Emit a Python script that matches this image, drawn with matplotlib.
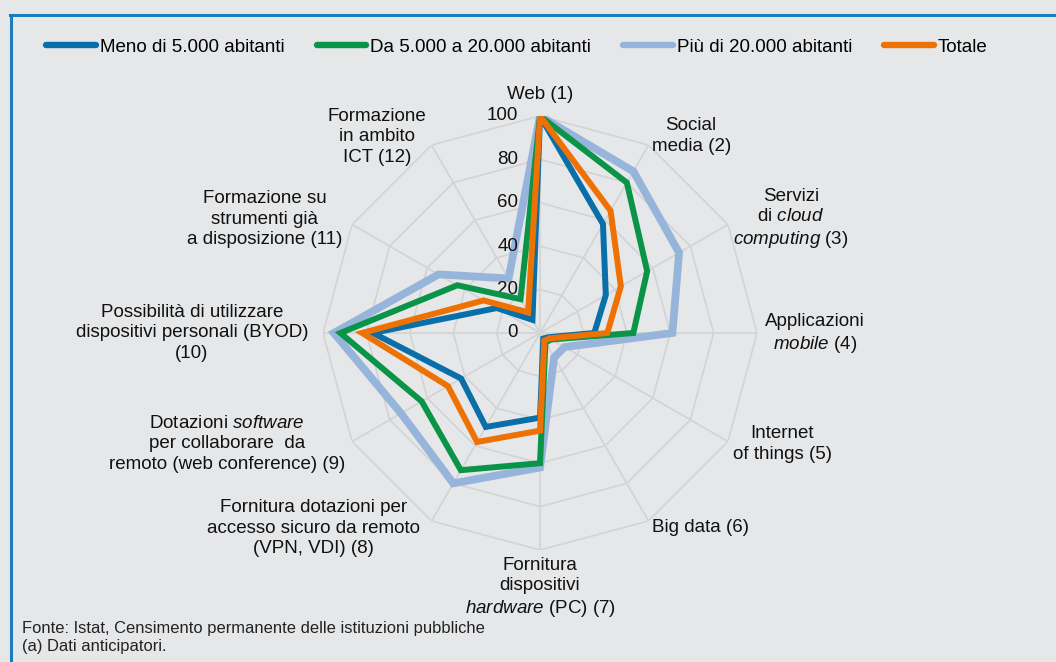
import numpy as np
import matplotlib
matplotlib.use("Agg")
import matplotlib.pyplot as plt
from matplotlib.lines import Line2D
import matplotlib.transforms as mtransforms

# ----------------------------
# Dati (valori percentuali)
# ----------------------------
categorie = [
    "Web (1)",
    "Social\nmedia (2)",
    "Servizi\ndi $\\it{cloud}$\n$\\it{computing}$ (3)",
    "Applicazioni\n$\\it{mobile}$ (4)",
    "Internet\nof things (5)",
    "Big data (6)",
    "Fornitura\ndispositivi\n$\\it{hardware}$ (PC) (7)",
    "Fornitura dotazioni per\naccesso sicuro da remoto\n(VPN, VDI) (8)",
    "Dotazioni $\\it{software}$\nper collaborare  da\nremoto (web conference) (9)",
    "Possibilità di utilizzare\ndispositivi personali (BYOD)\n(10)",
    "Formazione su\nstrumenti già\na disposizione (11)",
    "Formazione\nin ambito\nICT (12)",
]
meno_5000 = [100, 58, 35, 25, 4, 3, 39, 50, 42, 77, 23, 7]
da_5000_20000 = [100, 80, 57, 43, 6, 5, 60, 73, 63, 92, 44, 18]
piu_20000 = [100, 86, 74, 61, 13, 13, 62, 80, 74, 95, 54, 29]
totale = [100, 65, 43, 31, 5, 4, 45, 58, 49, 82, 30, 11]

serie_nomi = ["Meno di 5.000 abitanti", "Da 5.000 a 20.000 abitanti",
              "Più di 20.000 abitanti", "Totale"]
livelli = [20, 40, 60, 80, 100]
tick_labels = ["0", "20", "40", "60", "80", "100"]

# posizione delle etichette (angolo in gradi, raggio in unità dell'asse)
pos_etichette = [(0, 109.7), (37.5, 114.4), (65.6, 127.0), (90.2, 126.7),
                 (114.6, 122.7), (140.5, 115.9), (180, 117.5), (229.3, 137.9),
                 (250.5, 153.0), (270, 160.4), (292.5, 137.2), (320.3, 117.5)]

# ----------------------------
# Stile
# ----------------------------
plt.rcParams['font.family'] = ['Liberation Sans', 'DejaVu Sans']
plt.rcParams['mathtext.fontset'] = 'custom'
plt.rcParams['mathtext.rm'] = 'Liberation Sans'
plt.rcParams['mathtext.it'] = 'Liberation Sans:italic'

sfondo = "#e6e7e9"
col_blu = "#0a6fa8"
col_verde = "#0a9447"
col_azzurro = "#97b5da"
col_arancio = "#ee7203"
col_griglia = "#d2d3d5"
col_cornice = "#1b7dbd"
fs = 13.5

fig = plt.figure(figsize=(10.56, 6.62), dpi=100, facecolor=sfondo)
ax = fig.add_axes([0.3059, 0.1692, 0.411, 0.6556], projection='polar')
ax.set_facecolor('none')
ax.set_theta_offset(np.pi / 2)
ax.set_theta_direction(-1)

n = len(categorie)
angoli = np.linspace(0, 2 * np.pi, n, endpoint=False)
angoli_chiusi = np.append(angoli, angoli[0])

# griglia poligonale
for liv in livelli:
    ax.plot(angoli_chiusi, [liv] * (n + 1), color=col_griglia, lw=1.2, zorder=1)
ax.set_xticks(angoli)
ax.set_xticklabels([])
ax.xaxis.grid(True, color=col_griglia, lw=1.2)
ax.set_yticks([])
ax.yaxis.grid(False)
ax.spines['polar'].set_visible(False)
ax.set_ylim(0, 100)

# serie
serie = [
    (piu_20000, col_azzurro, 5.6, 3),
    (da_5000_20000, col_verde, 4.3, 4),
    (meno_5000, col_blu, 4.3, 5),
    (totale, col_arancio, 4.3, 6),
]
for valori, colore, lw, z in serie:
    v = np.append(valori, valori[0])
    ax.plot(angoli_chiusi, v, color=colore, lw=lw, zorder=z,
            solid_joinstyle='miter', solid_capstyle='round')

# etichette del raggio
offset = mtransforms.offset_copy(ax.transData, fig=fig, x=-22, y=0, units='dots')
for val, txt in zip([0] + livelli, tick_labels):
    ax.text(0, val, txt, transform=offset, ha='right', va='center',
            fontsize=fs, color='#111111')

# etichette delle categorie
for (ang, r), txt in zip(pos_etichette, categorie):
    ax.text(np.deg2rad(ang), r, txt, ha='center', va='center',
            multialignment='center', fontsize=fs, color='#111111',
            linespacing=1.27)

# legenda
ordine = [col_blu, col_verde, col_azzurro, col_arancio]
leg_handles = [Line2D([0], [0], color=c, lw=4.6, solid_capstyle='round') for c in ordine]
fig.legend(leg_handles, serie_nomi, loc='center', bbox_to_anchor=(0.4895, 0.929),
           ncol=4, frameon=False, fontsize=fs, handlelength=2.65,
           handletextpad=0.2, columnspacing=1.72)

# cornice (solo lato superiore e sinistro)
fig.add_artist(Line2D([10 / 1056, 1.0], [1 - 15 / 662, 1 - 15 / 662],
                      transform=fig.transFigure, color=col_cornice, lw=2.2))
fig.add_artist(Line2D([11 / 1056, 11 / 1056], [0.0, 1 - 15 / 662],
                      transform=fig.transFigure, color=col_cornice, lw=2.2))

# note
fig.text(22 / 1056, 1 - 628 / 662,
         "Fonte: Istat, Censimento permanente delle istituzioni pubbliche",
         fontsize=11.9, va='center', ha='left', color='#222222')
fig.text(22 / 1056, 1 - 647 / 662, "(a) Dati anticipatori.",
         fontsize=11.9, va='center', ha='left', color='#222222')

fig.savefig("out.png", dpi=100, facecolor=sfondo)
